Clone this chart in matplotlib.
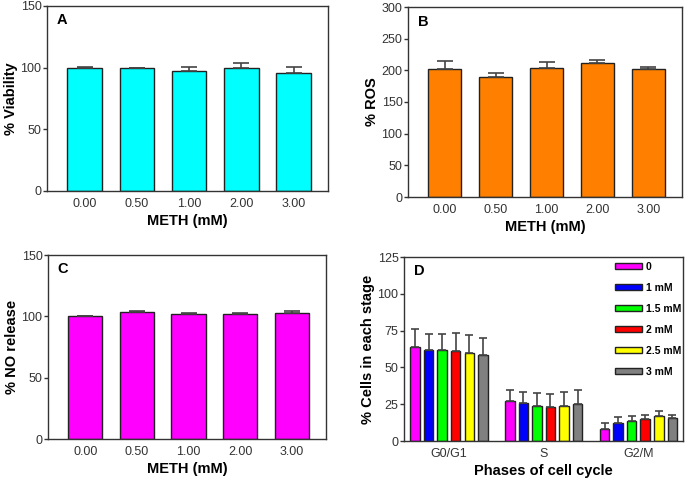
import matplotlib
matplotlib.use("Agg")
import matplotlib.pyplot as plt
import numpy as np
from matplotlib.patches import Patch

plt.rcParams['font.family'] = ['Liberation Sans', 'DejaVu Sans']

conc_labels = ["0.00", "0.50", "1.00", "2.00", "3.00"]

viability = [100, 99.5, 97.5, 100, 96]
viability_err = [0.3, 0.6, 3.0, 3.5, 4.5]

ros = [202, 190, 203, 211, 202]
ros_err = [13, 6, 10, 6, 3.5]

no_release = [100, 103.5, 102, 102, 103]
no_err = [0.2, 0.8, 0.5, 0.6, 1.5]

phases = ["G0/G1", "S", "G2/M"]
d_labels = ["0", "1 mM", "1.5 mM", "2 mM", "2.5 mM", "3 mM"]
d_colors = ["#ff00ff", "#0000ff", "#00ff00", "#ff0000", "#ffff00", "#808080"]
d_values = [
    [64, 27, 8],
    [62, 25.5, 12],
    [62, 23.5, 13.5],
    [61, 23, 15],
    [59.5, 23.5, 17],
    [58.5, 25, 15.5],
]
d_err = [
    [12, 7.5, 4.5],
    [11, 7.5, 4],
    [11, 9, 3.5],
    [12.5, 9, 3],
    [12.5, 9.5, 3.5],
    [11.5, 9.5, 2],
]

fig = plt.figure(figsize=(6.85, 4.82), dpi=100)

spine_c = "#333333"
tick_c = "#333333"
edge_c = "#222222"
err_c = "#444444"

def style(ax, ylabel, xlabel, letter, ylim, yticks):
    for s in ax.spines.values():
        s.set_color(spine_c)
        s.set_linewidth(1.0)
    ax.set_ylim(*ylim)
    ax.set_yticks(yticks)
    ax.tick_params(axis='y', direction='out', length=3, width=1, colors=spine_c,
                   labelcolor=tick_c, labelsize=9, pad=1)
    ax.tick_params(axis='x', length=0, labelcolor=tick_c, labelsize=9, pad=5)
    ax.set_ylabel(ylabel, fontsize=10.5, fontweight='bold', labelpad=2)
    ax.set_xlabel(xlabel, fontsize=10.5, fontweight='bold', labelpad=3)
    ax.text(0.035, 0.96, letter, transform=ax.transAxes, fontsize=10.5,
            fontweight='bold', va='top', ha='left')

def bar_panel(rect, vals, errs, color, ylabel, letter, ylim, yticks):
    ax = fig.add_axes(rect)
    x = np.arange(len(vals))
    ax.bar(x, vals, width=0.66, color=color, edgecolor=edge_c, linewidth=1.0,
           yerr=[np.zeros(len(errs)), errs], capsize=5.5,
           error_kw=dict(ecolor=err_c, elinewidth=1.2, capthick=1.2), zorder=2)
    ax.set_xticks(x)
    ax.set_xticklabels(conc_labels)
    ax.set_xlim(-0.72, 4.66)
    style(ax, ylabel, "METH (mM)", letter, ylim, yticks)
    return ax

def rect(l, t, r, b):
    W, H = 685, 482
    return [l / W, 1 - b / H, (r - l) / W, (b - t) / H]

bar_panel(rect(47, 6, 328, 191), viability, viability_err, "#00ffff",
          "% Viability", "A", (0, 150), [0, 50, 100, 150])
bar_panel(rect(408, 7, 682, 197), ros, ros_err, "#ff8000",
          "% ROS", "B", (0, 300), [0, 50, 100, 150, 200, 250, 300])
bar_panel(rect(48, 255, 326, 439), no_release, no_err, "#ff00ff",
          "% NO release", "C", (0, 150), [0, 50, 100, 150])

axd = fig.add_axes(rect(404, 257, 683, 441))
xg = np.arange(len(phases))
step = 0.143
for i, (vals, errs, c, lab) in enumerate(zip(d_values, d_err, d_colors, d_labels)):
    pos = xg + (i - 2.5) * step
    axd.bar(pos, vals, width=0.1, color=c, edgecolor=edge_c, linewidth=1.0,
            yerr=[np.zeros(len(errs)), errs], capsize=3,
            error_kw=dict(ecolor=err_c, elinewidth=1.2, capthick=1.2),
            label=lab, zorder=2)
axd.set_xticks(xg)
axd.set_xticklabels(phases)
axd.set_xlim(-0.474, 2.47)
style(axd, "% Cells in each stage", "Phases of cell cycle", "D", (0, 125),
      [0, 25, 50, 75, 100, 125])
handles = [Patch(facecolor=c, edgecolor=edge_c, linewidth=1.0) for c in d_colors]
leg = axd.legend(handles, d_labels, loc='upper right', bbox_to_anchor=(1.0, 0.985),
                 frameon=False, prop=dict(size=7.5, weight='bold'),
                 handlelength=2.6, handleheight=0.45, handletextpad=0.35,
                 labelspacing=1.05, borderaxespad=0.0, borderpad=0.2)

fig.savefig("out.png", dpi=100)
